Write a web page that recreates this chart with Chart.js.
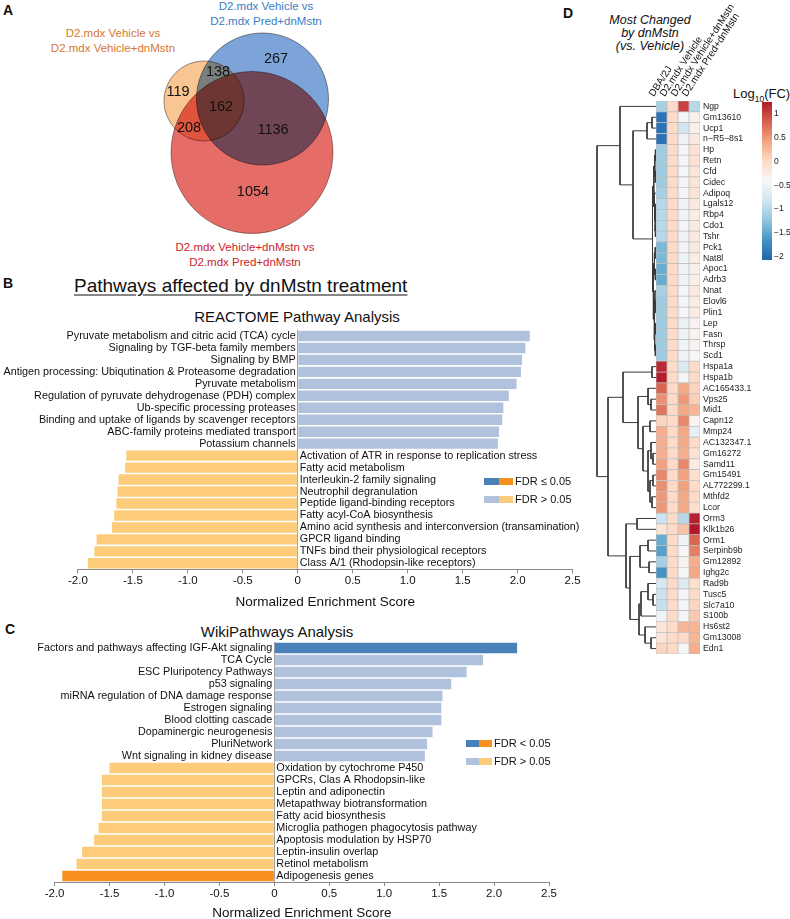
<!DOCTYPE html>
<html>
<head>
<meta charset="utf-8">
<script src="https://cdn.jsdelivr.net/npm/chart.js@4.4.1/dist/chart.umd.min.js"></script>
<style>
  body { margin: 0; background: #fff; font-family: 'Liberation Sans', Arial, sans-serif; color: #111; }
  #page { position: relative; width: 790px; height: 919px; overflow: hidden; }
  .cv { position: absolute; }
  .t { position: absolute; white-space: nowrap; line-height: 1; transform: translateY(-50%); }
  .c { transform: translate(-50%, -50%); text-align: center; }
  .blk { position: absolute; white-space: nowrap; text-align: center; transform: translateX(-50%); }
  .letter { font-weight: bold; font-size: 14px; }
  .sw { position: absolute; height: 7px; }
</style>
</head>
<body>
<div id="page">
  <div class="t letter" style="left:3px;top:10px">A</div>
  <div class="blk" style="left:113px;top:25.5px;font-size:11.5px;line-height:15px;color:#d5772f">D2.mdx Vehicle vs<br>D2.mdx Vehicle+dnMstn</div>
  <div class="blk" style="left:266px;top:-1.5px;font-size:11.5px;line-height:15px;color:#3a7dc3">D2.mdx Vehicle vs<br>D2.mdx Pred+dnMstn</div>
  <div class="blk" style="left:245px;top:239.5px;font-size:11.5px;line-height:15px;color:#c9242b">D2.mdx Vehicle+dnMstn vs<br>D2.mdx Pred+dnMstn</div>
  <div class="cv" style="left:100px;top:20px;width:280px;height:230px"><canvas id="venn"></canvas></div>

  <div class="t letter" style="left:3px;top:283px">B</div>
  <div class="t" style="left:74px;top:285px;font-size:19px;text-decoration:underline;text-underline-offset:3px">Pathways affected by dnMstn treatment</div>
  <div class="t c" style="left:297px;top:316px;font-size:15px">REACTOME Pathway Analysis</div>
  <div class="cv" style="left:0;top:320px;width:590px;height:295px"><canvas id="reactome"></canvas></div>
  <div class="sw" style="left:484px;top:477.5px;width:14.5px;background:#4a80b8"></div>
  <div class="sw" style="left:498.5px;top:477.5px;width:14.5px;background:#f7901e"></div>
  <div class="t" style="left:515px;top:481px;font-size:11px">FDR &le; 0.05</div>
  <div class="sw" style="left:484px;top:495.5px;width:14.5px;background:#afc1dc"></div>
  <div class="sw" style="left:498.5px;top:495.5px;width:14.5px;background:#fdcc7a"></div>
  <div class="t" style="left:515px;top:499px;font-size:11px">FDR &gt; 0.05</div>

  <div class="t letter" style="left:5px;top:629px">C</div>
  <div class="t c" style="left:277px;top:631px;font-size:15px">WikiPathways Analysis</div>
  <div class="cv" style="left:0;top:632px;width:590px;height:287px"><canvas id="wiki"></canvas></div>
  <div class="sw" style="left:466px;top:739.5px;width:13px;background:#4a80b8"></div>
  <div class="sw" style="left:479px;top:739.5px;width:13px;background:#f7901e"></div>
  <div class="t" style="left:494px;top:743px;font-size:11px">FDR &lt; 0.05</div>
  <div class="sw" style="left:466px;top:757.5px;width:13px;background:#afc1dc"></div>
  <div class="sw" style="left:479px;top:757.5px;width:13px;background:#fdcc7a"></div>
  <div class="t" style="left:494px;top:761px;font-size:11px">FDR &gt; 0.05</div>

  <div class="t letter" style="left:563px;top:13px">D</div>
  <div class="blk" style="left:650px;top:13.5px;font-size:12.5px;line-height:13px;font-style:italic">Most Changed<br>by dnMstn<br>(vs. Vehicle)</div>
  <div class="t" style="left:733px;top:95px;font-size:13px">Log<sub style="font-size:8.5px">10</sub>(FC)</div>
  <div class="cv" style="left:590px;top:101px;width:66px;height:553px"><canvas id="dendro"></canvas></div>
  <div class="cv" style="left:636px;top:0;width:154px;height:654px"><canvas id="heat"></canvas></div>
  <div class="cv" style="left:762px;top:96px;width:28px;height:170px"><canvas id="cbar"></canvas></div>
</div>

<script>
// ---- A: Venn counts ----
var vennSetNames = ['D2.mdx Vehicle vs D2.mdx Vehicle+dnMstn', 'D2.mdx Vehicle vs D2.mdx Pred+dnMstn', 'D2.mdx Vehicle+dnMstn vs D2.mdx Pred+dnMstn'];
var vennRegionCounts = [119, 138, 162, 267, 208, 1136, 1054];
var vennRegionSets = [[0], [0, 1], [0, 1, 2], [1], [0, 2], [1, 2], [2]];

// ---- B: REACTOME ----
var reactomeLabels = ['Pyruvate metabolism and citric acid (TCA) cycle', 'Signaling by TGF-beta family members', 'Signaling by BMP',
  'Antigen processing: Ubiqutination & Proteasome degradation', 'Pyruvate metabolism', 'Regulation of pyruvate dehydrogenase (PDH) complex',
  'Ub-specific processing proteases', 'Binding and uptake of ligands by scavenger receptors', 'ABC-family proteins mediated transport',
  'Potassium channels', 'Activation of ATR in response to replication stress', 'Fatty acid metabolism', 'Interleukin-2 family signaling',
  'Neutrophil degranulation', 'Peptide ligand-binding receptors', 'Fatty acyl-CoA biosynthesis',
  'Amino acid synthesis and interconversion (transamination)', 'GPCR ligand binding', 'TNFs bind their physiological receptors',
  'Class A/1 (Rhodopsin-like receptors)'];
var reactomeNES = [2.11, 2.07, 2.04, 2.03, 1.99, 1.92, 1.87, 1.86, 1.83, 1.82,
  -1.56, -1.57, -1.63, -1.64, -1.65, -1.67, -1.69, -1.83, -1.85, -1.91];
var reactomeSig = [0, 0, 0, 0, 0, 0, 0, 0, 0, 0, 0, 0, 0, 0, 0, 0, 0, 0, 0, 0];

// ---- C: WikiPathways ----
var wikiLabels = ['Factors and pathways affecting IGF-Akt signaling', 'TCA Cycle', 'ESC Pluripotency Pathways', 'p53 signaling',
  'miRNA regulation of DNA damage response', 'Estrogen signaling', 'Blood clotting cascade', 'Dopaminergic neurogenesis', 'PluriNetwork',
  'Wnt signaling in kidney disease', 'Oxidation by cytochrome P450', 'GPCRs, Clas A Rhodopsin-like', 'Leptin and adiponectin',
  'Metapathway biotransformation', 'Fatty acid biosynthesis', 'Microglia pathogen phagocytosis pathway', 'Apoptosis modulation by HSP70',
  'Leptin-insulin overlap', 'Retinol metabolism', 'Adipogenesis genes'];
var wikiNES = [2.21, 1.90, 1.75, 1.61, 1.53, 1.52, 1.52, 1.44, 1.39, 1.37,
  -1.50, -1.57, -1.57, -1.57, -1.57, -1.60, -1.64, -1.75, -1.80, -1.93];
var wikiSig = [1, 0, 0, 0, 0, 0, 0, 0, 0, 0, 0, 0, 0, 0, 0, 0, 0, 0, 0, 1];

var nesTicks = [-2, -1.5, -1, -0.5, 0, 0.5, 1, 1.5, 2, 2.5];

// ---- D: heatmap ----
var heatColumns = ['DBA/2J', 'D2.mdx Vehicle', 'D2.mdx Vehicle+dnMstn', 'D2.mdx Pred+dnMstn'];
var geneNames = ['Ngp', 'Gm13610', 'Ucp1', 'n\u2212R5\u22128s1', 'Hp', 'Retn', 'Cfd', 'Cidec', 'Adipoq', 'Lgals12', 'Rbp4', 'Cdo1', 'Tshr',
  'Pck1', 'Nat8l', 'Apoc1', 'Adrb3', 'Nnat', 'Elovl6', 'Plin1', 'Lep', 'Fasn', 'Thrsp', 'Scd1', 'Hspa1a', 'Hspa1b', 'AC165433.1',
  'Vps25', 'Mid1', 'Capn12', 'Mmp24', 'AC132347.1', 'Gm16272', 'Samd11', 'Gm15491', 'AL772299.1', 'Mthfd2', 'Lcor', 'Orm3',
  'Klk1b26', 'Orm1', 'Serpinb9b', 'Gm12892', 'Ighg2c', 'Rad9b', 'Tusc5', 'Slc7a10', 'S100b', 'Hs6st2', 'Gm13008', 'Edn1'];
var heatDBA = [-1.1, -1.95, -1.95, -1.95, -1.15, -1.15, -1.15, -1.15, -1.1, -1.0, -1.0, -1.0, -1.0,
  -1.35, -1.35, -1.45, -1.45, -1.1, -1.15, -1.15, -1.15, -1.15, -1.15, -1.15, 1.15, 1.22, 0.8,
  0.55, 0.7, 0.05, 0.35, 0.35, 0.35, 0.45, 0.6, 0.55, 0.5, 0.5, -0.85,
  -0.15, -1.45, -1.55, -1.1, -1.65, -0.75, -0.85, -0.9, -0.5, -0.15, -0.15, 0.05];
var heatVeh = [0, 0, 0, 0, 0, 0, 0, 0, 0, 0, 0, 0, 0, 0, 0, 0, 0, 0, 0, 0, 0, 0, 0, 0, 0, 0,
  0, 0, 0, 0, 0, 0, 0, 0, 0, 0, 0, 0, 0, 0, 0, 0, 0, 0, 0, 0, 0, 0, 0, 0, 0];
var heatVehDn = [1.0, -0.45, -0.8, -0.5, -0.45, -0.45, -0.45, -0.45, -0.45, -0.5, -0.5, -0.45, -0.5,
  -0.45, -0.5, -0.5, -0.5, -0.45, -0.45, -0.45, -0.55, -0.5, -0.5, -0.5, -0.7, -0.45, 0.4,
  0.5, 0.4, 0.6, 0.4, 0.4, 0.35, 0.6, 0.45, 0.45, 0.4, 0.4, -1.0,
  0.2, -0.5, -0.4, -0.35, -0.4, -0.7, -0.45, -0.45, -0.45, 0.3, 0.0, -0.4];
var heatPredDn = [-1.0, -0.3, -0.3, -0.2, -0.1, -0.1, -0.15, -0.15, -0.15, -0.2, -0.25, -0.2, -0.2,
  -0.2, -0.25, -0.3, -0.3, -0.2, -0.25, -0.25, -0.35, -0.35, -0.35, -0.4, 0.0, 0.0, 0.05,
  0.1, 0.3, -0.35, -0.6, 0.0, -0.1, -0.25, -0.05, 0.0, 0.0, -0.05, 1.2,
  1.25, 0.8, 0.65, 0.35, 0.4, -0.05, 0.0, 0.05, 0.15, 0.3, 0.3, 0.35];
// row clustering: [merge height, left, right]; numbers are row indices
var geneTree = [59,
  [36, 0, [23, [9, [4, 1, 2], 3],
    [3.5, [2.2, [1.2, [0.6, 4, 5], [0.7, 6, 7]], [1.5, 8, [1, [0.5, 9, 10], [0.6, 11, 12]]]],
      [2.6, [1.6, [0.8, 13, 14], [0.7, 15, 16]], [1.9, [1.1, 17, [0.6, 18, 19]], [1.3, [0.6, 20, 21], [0.7, 22, 23]]]]]]],
  [48,
    [33, [4, 24, 25], [18, [8, 26, [5, 27, 28]], [13, [6, 29, 30], [8, [5, 31, [3, 32, 33]], [6, [3, 34, 35], [4, 36, 37]]]]]],
    [30, [19, 38, 39], [26, [16, [8, 40, 41], [7, 42, 43]], [17, [15, [8, 44, [3, 45, 46]], 47], [11, 48, [5, 49, 50]]]]]]];
var cbMin = -2.07, cbMax = 1.25;
var cbTicks = [-2, -1.5, -1, -0.5, 0, 0.5, 1];

Chart.defaults.font.family = "'Liberation Sans', Arial, sans-serif";
Chart.defaults.color = '#111';

var rdbuStops = ['#2166ac', '#4393c3', '#92c5de', '#d1e5f0', '#f7f7f7', '#fddbc7', '#f4a582', '#d6604d', '#b2182b'];
function hex(c) { return [parseInt(c.substr(1, 2), 16), parseInt(c.substr(3, 2), 16), parseInt(c.substr(5, 2), 16)]; }
function rdbu(v) {
  var t = Math.max(0, Math.min(1, (v - cbMin) / (cbMax - cbMin))) * (rdbuStops.length - 1);
  var k = Math.min(Math.floor(t), rdbuStops.length - 2), f = t - k;
  var a = hex(rdbuStops[k]), b = hex(rdbuStops[k + 1]);
  return 'rgb(' + a.map(function (x, i) { return Math.round(x + (b[i] - x) * f); }).join(',') + ')';
}

var base = { animation: false, responsive: true, maintainAspectRatio: false, events: [],
  plugins: { legend: { display: false }, tooltip: { enabled: false } } };
function opts(extra) { return Object.assign({}, base, extra); }

// ---- A ----
var vennSizes = vennSetNames.map(function (n, s) {
  return vennRegionCounts.reduce(function (acc, c, r) { return acc + (vennRegionSets[r].indexOf(s) >= 0 ? c : 0); }, 0);
});
var vennCenters = [[204, 101], [262.5, 99], [252, 152.5]];
var vennLabelPos = [[178, 92], [218, 72], [221, 107], [276, 59], [189, 128], [273, 130], [253, 192]];
var vennFill = ['#f9c593', '#7ca4d8', '#e66d67'];
var vennPlugin = {
  id: 'vennText',
  beforeDatasetsDraw: function (chart) { chart.ctx.save(); chart.ctx.globalCompositeOperation = 'multiply'; },
  afterDatasetsDraw: function (chart) {
    var ctx = chart.ctx; ctx.restore();
    var sx = chart.scales.x, sy = chart.scales.y;
    ctx.save();
    ctx.font = '14.5px "Liberation Sans", Arial, sans-serif';
    ctx.fillStyle = '#111'; ctx.textAlign = 'center'; ctx.textBaseline = 'middle';
    vennRegionCounts.forEach(function (c, i) {
      ctx.fillText(String(c), sx.getPixelForValue(vennLabelPos[i][0]), sy.getPixelForValue(vennLabelPos[i][1]));
    });
    ctx.restore();
  }
};
new Chart(document.getElementById('venn'), {
  type: 'scatter',
  data: { datasets: vennSetNames.map(function (n, i) {
    return { label: n, data: [{ x: vennCenters[i][0], y: vennCenters[i][1] }], clip: false,
      pointBackgroundColor: vennFill[i], pointBorderColor: 'rgba(90,70,70,0.6)', pointBorderWidth: 1,
      pointRadius: function (c) { var s = c.chart.scales.x; return s.getPixelForValue(1.6 * Math.sqrt(vennSizes[i])) - s.getPixelForValue(0); } };
  }) },
  options: opts({ layout: { padding: 0 },
    scales: { x: { display: false, min: 100, max: 380 }, y: { display: false, min: 20, max: 250, reverse: true } } }),
  plugins: [vennPlugin]
});

// ---- B, C ----
function barColor(v, s) { return v >= 0 ? (s ? '#4a80b8' : '#afc1dc') : (s ? '#f7901e' : '#fdcc7a'); }
var barLabelPlugin = {
  id: 'barLabels',
  afterDatasetsDraw: function (chart) {
    var ctx = chart.ctx, meta = chart.getDatasetMeta(0), x0 = chart.scales.x.getPixelForValue(0);
    var vals = chart.data.datasets[0].data;
    ctx.save();
    ctx.font = '10.8px "Liberation Sans", Arial, sans-serif';
    ctx.fillStyle = '#111'; ctx.textBaseline = 'middle';
    meta.data.forEach(function (bar, i) {
      ctx.textAlign = vals[i] >= 0 ? 'right' : 'left';
      ctx.fillText(chart.data.labels[i], vals[i] >= 0 ? x0 - 2 : x0 + 2, bar.y);
    });
    ctx.restore();
  }
};
function nesChart(id, labels, values, sig, pad, axisH, titlePad) {
  return new Chart(document.getElementById(id), {
    type: 'bar',
    data: { labels: labels, datasets: [{ data: values, backgroundColor: values.map(function (v, i) { return barColor(v, sig[i]); }),
      barPercentage: 0.87, categoryPercentage: 1 }] },
    options: opts({
      indexAxis: 'y',
      layout: { padding: pad },
      scales: {
        y: { display: false },
        x: { min: -2, max: 2.5,
          afterBuildTicks: function (s) { s.ticks = nesTicks.map(function (v) { return { value: v }; }); },
          ticks: { font: { size: 11.5 }, color: '#111', padding: 1, autoSkip: false,
            callback: function (v) { return v === 0 ? '0' : v.toFixed(1); } },
          grid: { drawOnChartArea: true, tickLength: 4, tickColor: '#8a8a8a',
            color: function (c) { return c.tick && c.tick.value === 0 ? '#a0a0a0' : 'rgba(0,0,0,0)'; } },
          border: { display: true, color: '#8a8a8a' },
          title: { display: true, text: 'Normalized Enrichment Score', font: { size: 13.5 }, color: '#111', padding: { top: 0, bottom: titlePad } },
          afterFit: function (s) { s.height = axisH; } }
      }
    }),
    plugins: [barLabelPlugin]
  });
}
nesChart('reactome', reactomeLabels, reactomeNES, reactomeSig, { left: 77.9, right: 17.4, top: 10, bottom: 0 }, 45.7, 5);
nesChart('wiki', wikiLabels, wikiNES, wikiSig, { left: 54.6, right: 41, top: 10, bottom: 0 }, 37, -2);

// ---- D: dendrogram ----
var dendroLines = [];
function walk(node) {
  if (typeof node === 'number') return { y: node, h: 0 };
  var a = walk(node[1]), b = walk(node[2]);
  dendroLines.push([{ x: a.h, y: a.y }, { x: node[0], y: a.y }, { x: node[0], y: b.y }, { x: b.h, y: b.y }]);
  return { y: (a.y + b.y) / 2, h: node[0] };
}
walk(geneTree);
new Chart(document.getElementById('dendro'), {
  type: 'scatter',
  data: { datasets: dendroLines.map(function (pts) {
    return { data: pts, showLine: true, borderColor: '#3a3a3a', borderWidth: 1, pointRadius: 0, tension: 0, clip: 2 };
  }) },
  options: opts({ layout: { padding: 0 },
    scales: { x: { type: 'linear', display: false, min: 0, max: 66, reverse: true },
      y: { display: false, min: -0.5, max: geneNames.length - 0.5, reverse: true } } })
});

// ---- D: heatmap ----
var heatData = [heatDBA, heatVeh, heatVehDn, heatPredDn];
new Chart(document.getElementById('heat'), {
  type: 'bar',
  data: { labels: geneNames, datasets: heatData.map(function (col, j) {
    return { label: heatColumns[j], data: col.map(function () { return 1; }), backgroundColor: col.map(rdbu),
      borderColor: '#bdbdbd', borderWidth: 0.7, borderSkipped: false, barPercentage: 1, categoryPercentage: 1 };
  }) },
  options: opts({
    indexAxis: 'y',
    layout: { padding: { left: 20, right: 0, top: 0, bottom: 0 } },
    scales: {
      x: { stacked: true, min: 0, max: heatColumns.length, position: 'top',
        afterBuildTicks: function (s) { s.ticks = heatColumns.map(function (n, j) { return { value: j + 0.5 }; }); },
        ticks: { autoSkip: false, minRotation: 57, maxRotation: 57, padding: 2, font: { size: 10 }, color: '#111',
          callback: function (v, i) { return heatColumns[i]; } },
        grid: { display: false, drawTicks: false }, border: { display: false },
        afterFit: function (s) { s.height = 101; s.paddingLeft = 0; s.paddingRight = 0; } },
      y: { stacked: true, position: 'right',
        ticks: { autoSkip: false, font: { size: 8.7 }, color: '#222', padding: 3 },
        grid: { display: false, drawTicks: false }, border: { display: false },
        afterFit: function (s) { s.width = 90; s.paddingTop = 0; s.paddingBottom = 0; } }
    }
  })
});

// ---- D: colour bar ----
new Chart(document.getElementById('cbar'), {
  type: 'bar',
  data: { labels: [''], datasets: [{ data: [[cbMin, cbMax]], barPercentage: 1, categoryPercentage: 1,
    backgroundColor: function (c) {
      var ch = c.chart; if (!ch.chartArea) return null;
      var y = ch.scales.y;
      var g = ch.ctx.createLinearGradient(0, y.getPixelForValue(cbMin), 0, y.getPixelForValue(cbMax));
      rdbuStops.forEach(function (col, k) { g.addColorStop(k / (rdbuStops.length - 1), col); });
      return g;
    } }] },
  options: opts({
    layout: { padding: { top: 6, bottom: 6, left: 0, right: 0 } },
    scales: {
      x: { display: false },
      y: { position: 'right', min: cbMin, max: cbMax,
        afterBuildTicks: function (s) { s.ticks = cbTicks.map(function (v) { return { value: v }; }); },
        ticks: { font: { size: 8.5 }, color: '#222', padding: 2, autoSkip: false,
          callback: function (v) { return String(v).replace('-', '\u2212'); } },
        grid: { display: false, drawTicks: false }, border: { display: false },
        afterFit: function (s) { s.width = 18; s.paddingTop = 0; s.paddingBottom = 0; } }
    }
  })
});
</script>
</body>
</html>
